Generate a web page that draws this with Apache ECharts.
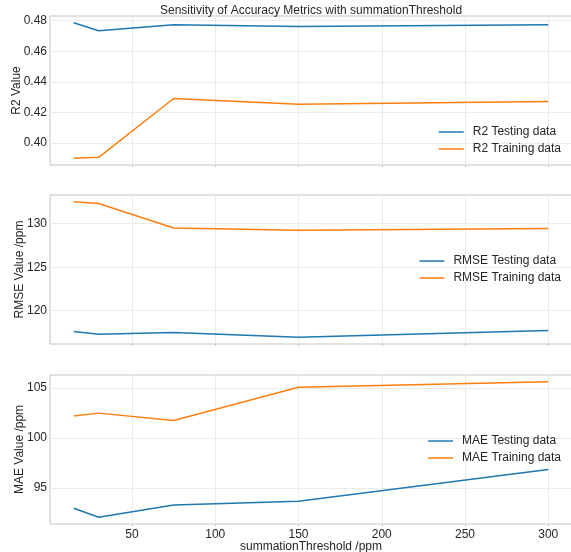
<!DOCTYPE html>
<html>
<head>
<meta charset="utf-8">
<script src="https://cdn.jsdelivr.net/npm/echarts@6/dist/echarts.min.js"></script>
<style>
    html, body { margin: 0; padding: 0; background: #fff; }
    #main { width: 571px; height: 552px; }
</style>
</head>
<body>
<div id="main"></div>
<script>
    // summationThreshold /ppm
    var thresholds = [15, 30, 75, 150, 300];
    var xTicks = [50, 100, 150, 200, 250, 300];

    var r2Testing = [0.4787, 0.4735, 0.4774, 0.4763, 0.4774];
    var r2Training = [0.3900, 0.3906, 0.4291, 0.4254, 0.4271];
    var r2Ticks = [0.40, 0.42, 0.44, 0.46, 0.48];

    var rmseTesting = [117.6, 117.3, 117.48, 116.95, 117.71];
    var rmseTraining = [132.52, 132.33, 129.5, 129.24, 129.46];
    var rmseTicks = [120, 125, 130];

    var maeTesting = [92.97, 92.07, 93.3, 93.67, 96.84];
    var maeTraining = [102.2, 102.5, 101.77, 105.1, 105.64];
    var maeTicks = [95, 100, 105];

    var FONT = 'Liberation Sans';
    var TXT = '#262626';
    var BLUE = '#1f77b4';
    var ORANGE = '#ff7f0e';

    function pairs(xs, ys) {
        return xs.map(function(x, i) { return [x, ys[i]]; });
    }

    var panels = [
        { top: 16, name: 'R2 Value', gap: 27, min: 0.3856, max: 0.4831, ticks: r2Ticks,
          fmt: function(v) { return v.toFixed(2); },
          test: r2Testing, train: r2Training, label: 'R2', legendTop: 125 },
        { top: 195, name: 'RMSE Value /ppm', gap: 24, min: 116.17, max: 133.3, ticks: rmseTicks,
          fmt: function(v) { return String(v); },
          test: rmseTesting, train: rmseTraining, label: 'RMSE', legendTop: 254 },
        { top: 375, name: 'MAE Value /ppm', gap: 24, min: 91.39, max: 106.32, ticks: maeTicks,
          fmt: function(v) { return String(v); },
          test: maeTesting, train: maeTraining, label: 'MAE', legendTop: 434 }
    ];

    var grids = [], xAxes = [], yAxes = [], series = [], legends = [];

    panels.forEach(function(p, i) {
        grids.push({
            left: 50, top: p.top, width: 522, height: 149,
            outerBoundsMode: 'none', containLabel: false,
            show: true, borderColor: '#c4c4c4', borderWidth: 1, backgroundColor: 'transparent'
        });
        xAxes.push({
            type: 'value', gridIndex: i, min: 0.75, max: 314.25,
            name: i === 2 ? 'summationThreshold /ppm' : '',
            nameLocation: 'middle', nameGap: 17, nameMoveOverlap: false,
            nameTextStyle: { fontFamily: FONT, fontSize: 12, color: TXT },
            axisLine: { show: false },
            axisTick: { show: true, length: 2, customValues: xTicks, lineStyle: { color: '#c4c4c4' } },
            axisLabel: {
                show: i === 2, customValues: xTicks, margin: 5,
                fontFamily: FONT, fontSize: 12, color: TXT
            },
            splitLine: { show: true, lineStyle: { color: '#ebebeb', width: 1 } }
        });
        yAxes.push({
            type: 'value', gridIndex: i, min: p.min, max: p.max,
            name: p.name, nameLocation: 'middle', nameGap: p.gap, nameMoveOverlap: false,
            nameTextStyle: { fontFamily: FONT, fontSize: 12, color: TXT },
            axisLine: { show: false },
            axisTick: { show: false, customValues: p.ticks },
            axisLabel: {
                customValues: p.ticks, margin: 3, formatter: p.fmt,
                fontFamily: FONT, fontSize: 12, color: TXT
            },
            splitLine: { show: true, lineStyle: { color: '#ebebeb', width: 1 } }
        });
        series.push({
            name: p.label + ' Testing data', type: 'line', xAxisIndex: i, yAxisIndex: i,
            data: pairs(thresholds, p.test), symbol: 'none',
            lineStyle: { color: BLUE, width: 1.5 }, itemStyle: { color: BLUE }
        });
        series.push({
            name: p.label + ' Training data', type: 'line', xAxisIndex: i, yAxisIndex: i,
            data: pairs(thresholds, p.train), symbol: 'none',
            lineStyle: { color: ORANGE, width: 1.5 }, itemStyle: { color: ORANGE }
        });
        legends.push({
            data: [p.label + ' Testing data', p.label + ' Training data'],
            orient: 'vertical', right: 10, top: p.legendTop, padding: 0,
            icon: 'rect', itemWidth: 25, itemHeight: 1.5, itemGap: 3,
            textStyle: { fontFamily: FONT, fontSize: 12, color: TXT, padding: [0, 0, 0, 4], lineHeight: 14 }
        });
    });

    var chart = echarts.init(document.getElementById('main'), null, { renderer: 'canvas' });
    chart.setOption({
        animation: false,
        backgroundColor: '#fff',
        title: {
            text: 'Sensitivity of Accuracy Metrics with summationThreshold',
            left: 311, top: 5, textAlign: 'center', padding: 0,
            textStyle: { fontFamily: FONT, fontSize: 12, fontWeight: 'normal', color: TXT }
        },
        legend: legends,
        grid: grids,
        xAxis: xAxes,
        yAxis: yAxes,
        series: series
    });
</script>
</body>
</html>
